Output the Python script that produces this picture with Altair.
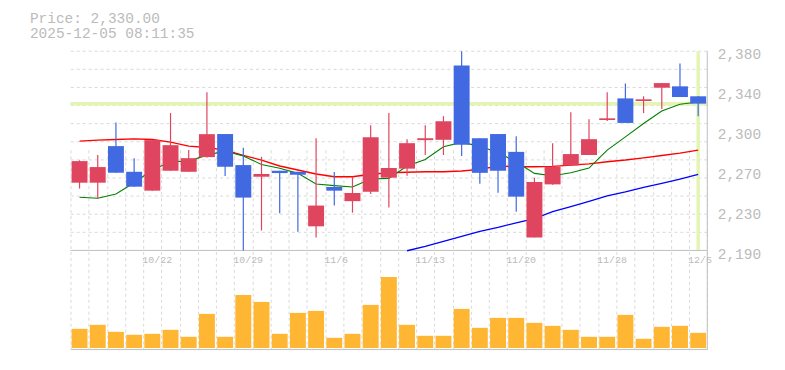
import altair as alt
import pandas as pd
import numpy as np

# ---------------- data ----------------
header_price = "Price: 2,330.00"
header_time = "2025-12-05 08:11:35"
current_price = 2330.0

dates = ["10/16", "10/17", "10/20", "10/21", "10/22", "10/23", "10/24", "10/27", "10/28",
         "10/29", "10/30", "10/31", "11/4", "11/5", "11/6", "11/7", "11/10", "11/11",
         "11/12", "11/13", "11/14", "11/17", "11/18", "11/19", "11/20", "11/21", "11/25",
         "11/26", "11/27", "11/28", "12/1", "12/2", "12/3", "12/4", "12/5"]

opens = [2254.6, 2254.6, 2289.5, 2265.0, 2247.0, 2266.0, 2265.0, 2279.0, 2301.0, 2271.4,
         2260.3, 2266.0, 2265.0, 2213.0, 2250.5, 2237.0, 2246.0, 2259.4, 2268.0, 2295.2,
         2295.5, 2366.4, 2297.0, 2301.0, 2284.0, 2202.4, 2253.0, 2271.0, 2281.0, 2314.4,
         2335.0, 2332.5, 2345.2, 2346.5, 2337.0]
closes = [2275.2, 2269.5, 2264.1, 2250.8, 2295.2, 2290.4, 2278.0, 2300.9, 2269.8, 2240.4,
          2262.9, 2263.8, 2262.2, 2232.8, 2247.0, 2244.8, 2298.0, 2268.6, 2292.3, 2297.0,
          2313.2, 2290.7, 2264.0, 2266.0, 2241.3, 2255.3, 2269.8, 2281.9, 2296.1, 2316.0,
          2311.6, 2334.1, 2349.6, 2336.3, 2330.0]
highs = [2276.0, 2281.0, 2312.0, 2278.0, 2295.2, 2321.0, 2285.7, 2340.8, 2300.9, 2288.0,
         2279.3, 2266.0, 2265.0, 2297.0, 2264.8, 2260.3, 2309.4, 2321.0, 2296.0, 2309.4,
         2318.0, 2380.0, 2297.0, 2301.0, 2299.0, 2259.4, 2292.3, 2321.8, 2315.0, 2340.8,
         2349.3, 2337.0, 2349.6, 2368.3, 2337.0]
lows = [2249.0, 2239.4, 2264.1, 2250.8, 2247.0, 2266.0, 2265.0, 2278.7, 2261.0, 2190.0,
        2209.0, 2225.5, 2207.8, 2202.4, 2232.8, 2226.0, 2243.9, 2230.9, 2261.3, 2281.0,
        2281.0, 2280.0, 2253.6, 2245.1, 2227.0, 2202.4, 2252.7, 2271.0, 2281.2, 2313.5,
        2311.6, 2321.0, 2325.0, 2336.3, 2318.0]
volumes = [19.3, 23.3, 16.3, 13.3, 14.3, 18.3, 11.3, 34.3, 11.3, 53.3,
           46.3, 14.3, 35.3, 37.3, 10.3, 14.3, 43.3, 71.3, 23.3, 12.3,
           12.3, 39.3, 20.3, 30.3, 30.3, 25.3, 22.3, 18.3, 11.3, 11.3,
           33.3, 9.3, 21.3, 22.3, 15.3]
ma_short = [2240.7, 2239.8, 2243.9, 2254.6, 2266.7, 2274.6, 2275.2, 2280.9, 2284.7, 2280.0,
            2272.0, 2268.3, 2263.5, 2253.4, 2251.8, 2250.5, 2258.1, 2258.7, 2270.5, 2276.8,
            2288.8, 2293.0, 2289.5, 2283.1, 2274.6, 2263.5, 2261.3, 2264.1, 2268.6, 2285.7,
            2298.3, 2311.0, 2323.0, 2329.4, 2331.6]
ma_mid = [2294.2, 2295.2, 2295.8, 2296.4, 2295.8, 2293.3, 2289.5, 2288.2, 2285.7, 2280.6,
          2276.2, 2270.5, 2266.7, 2262.9, 2260.3, 2260.3, 2262.6, 2264.1, 2264.5, 2265.0,
          2265.0, 2265.7, 2267.3, 2270.5, 2269.8, 2269.8, 2270.2, 2271.4, 2272.6, 2274.6,
          2276.2, 2278.3, 2280.6, 2282.8, 2285.7]
ma_long = [None] * 18 + [2189.7, 2193.8, 2198.6, 2203.3, 2208.1, 2211.9, 2216.3, 2220.4,
                         2227.1, 2231.8, 2236.9, 2242.0, 2245.8, 2250.2, 2254.0, 2258.1, 2262.6]

label_dates = ["10/22", "10/29", "11/6", "11/13", "11/20", "11/28", "12/5"]
y_tick_values = [2190, 2228, 2266, 2304, 2342, 2380]
price_min, price_max = 2190, 2380
vol_max = 98

# ---------------- styling ----------------
RED = "#e0455f"
BLUE = "#4169e1"
VOL = "#ffb733"
HL = "#e4f5b3"
GRID = "#d9d9d9"
BORDER = "#c0c0c0"
TXT = "#bbbbbb"
FONT = "Liberation Mono"

n = len(dates)
df = pd.DataFrame({
    "idx": list(range(n)), "date": dates, "open": opens, "close": closes,
    "high": highs, "low": lows, "vol": volumes,
    "ma_s": ma_short, "ma_m": ma_mid, "ma_l": ma_long,
})
df["dir"] = np.where(df["close"] >= df["open"], "up", "down")

X_SCALE = alt.Scale(domain=[-0.5, n - 0.5], nice=False, zero=False, padding=0)
X_AXIS = alt.Axis(values=[float(v) for v in np.arange(-0.5, n, 1.0)], grid=True,
                  gridColor=GRID, gridDash=[3, 3], gridWidth=1, labels=False,
                  ticks=False, domain=True, domainColor=BORDER, domainWidth=1, title=None)
P_SCALE = alt.Scale(domain=[price_min, price_max], range=[200, 0], nice=False, zero=False, padding=0)
V_SCALE = alt.Scale(domain=[0, vol_max], range=[298, 200], nice=False, zero=True, padding=0)
P_AXIS = alt.Axis(orient="right", values=y_tick_values,
                  labelExpr="format(round(datum.value/10)*10, ',')",
                  grid=False, ticks=False, tickSize=0, domain=False,
                  labelFont=FONT, labelFontSize=14.5, labelColor=TXT, labelPadding=10,
                  labelBaseline="alphabetic", labelOffset=7.6, labelFlush=False,
                  labelOverlap=False, title=None)
COLOR = alt.Color("dir:N", scale=alt.Scale(domain=["up", "down"], range=[RED, BLUE]), legend=None)


def xq(field):
    return alt.X(f"{field}:Q", scale=X_SCALE, axis=X_AXIS)


def yp(field, axis=None):
    return alt.Y(f"{field}:Q", scale=P_SCALE, axis=axis)


base = alt.Chart(df)

grid_levels = [float(v) for v in np.linspace(price_min, price_max, 12)[1:]]
hgrid = alt.Chart(pd.DataFrame({"g": grid_levels})).mark_rule(
    color=GRID, strokeDash=[3, 3], strokeWidth=1).encode(y=yp("g"))

price_line = alt.Chart(pd.DataFrame({"p": [current_price]})).mark_rule(
    color=HL, strokeWidth=3.5).encode(y=yp("p"))

last = pd.DataFrame({"idx": [n - 1], "lo": [price_min], "hi": [price_max]})
last_line = alt.Chart(last).mark_rule(color=HL, strokeWidth=3.5).encode(
    x=xq("idx"), y=yp("lo"), y2="hi:Q")

panel_bottom = alt.Chart(pd.DataFrame({"b": [price_min]})).mark_rule(
    color=BORDER, strokeWidth=1).encode(y=yp("b"))

right_edge = alt.Chart(pd.DataFrame({"e": [n - 0.5]})).mark_rule(
    color=BORDER, strokeWidth=1).encode(x=xq("e"))

ma_l = base.mark_line(color="#0000ff", strokeWidth=1.3).encode(x=xq("idx"), y=yp("ma_l"))
ma_m = base.mark_line(color="#ff0000", strokeWidth=1.4).encode(x=xq("idx"), y=yp("ma_m"))
ma_s = base.mark_line(color="#008000", strokeWidth=1.1).encode(x=xq("idx"), y=yp("ma_s"))

wicks = base.mark_rule(strokeWidth=1.2).encode(
    x=xq("idx"), y=yp("low", P_AXIS), y2="high:Q", color=COLOR)
bodies = base.mark_bar(size=16, orient="vertical").encode(
    x=xq("idx"), y=yp("open"), y2="close:Q", color=COLOR)

vol_bars = base.mark_bar(size=16, orient="vertical", color=VOL).encode(
    x=xq("idx"), y=alt.Y("vol:Q", scale=V_SCALE, axis=None))

xlabels = alt.Chart(df[df["date"].isin(label_dates)]).transform_calculate(
    pos="datum.idx - 0.5").mark_text(
    align="left", baseline="alphabetic", dx=-1, font=FONT, fontSize=10, color=TXT).encode(
    x=xq("pos"), y=alt.value(212.6), text="date:N")

head1 = alt.Chart(pd.DataFrame({"t": [header_price]})).mark_text(
    align="left", baseline="alphabetic", font=FONT, fontSize=14.5, color=TXT).encode(
    x=alt.value(-40.7), y=alt.value(-28), text="t:N")
head2 = alt.Chart(pd.DataFrame({"t": [header_time]})).mark_text(
    align="left", baseline="alphabetic", font=FONT, fontSize=14.5, color=TXT).encode(
    x=alt.value(-40.7), y=alt.value(-13.4), text="t:N")

chart = alt.layer(
    hgrid, price_line, last_line, panel_bottom, right_edge,
    ma_l, ma_m, ma_s, wicks, bodies, vol_bars, xlabels, head1, head2,
).resolve_scale(y="independent").properties(
    width=639.3, height=299,
    autosize=alt.AutoSizeParams(type="none"),
    padding={"left": 62.7, "top": 42.7, "right": 70, "bottom": 10},
    background="white",
).configure_view(stroke=None)

chart.save("out.html", embed_options={"renderer": "svg", "actions": False})
